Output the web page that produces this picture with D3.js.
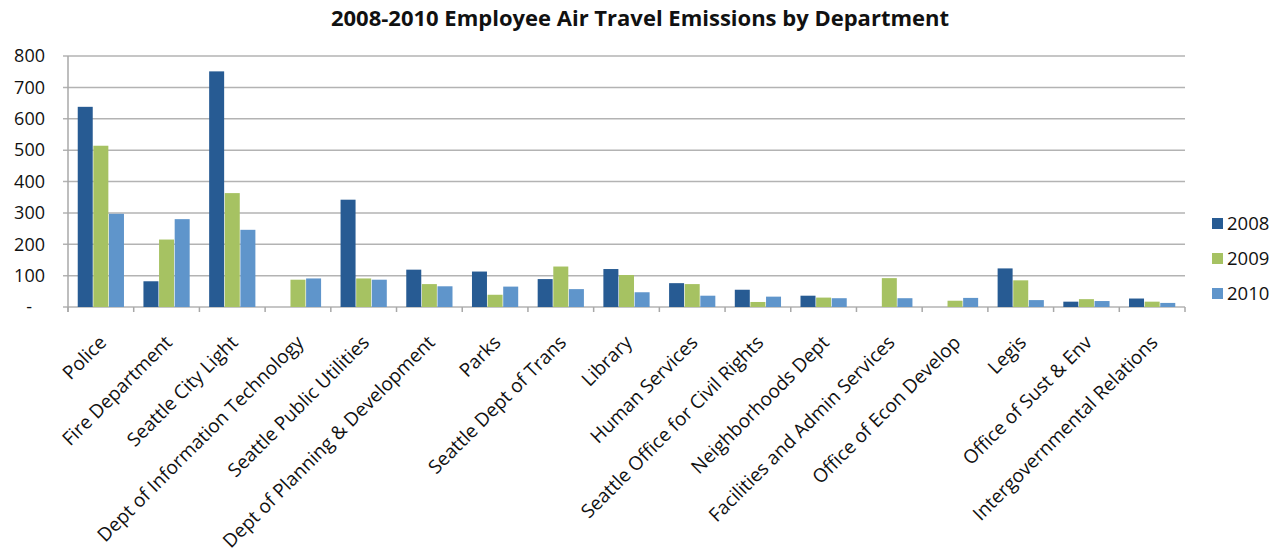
<!DOCTYPE html>
<html>
<head>
<meta charset="utf-8">
<script src="https://cdn.jsdelivr.net/npm/d3@7"></script>
<style>
	body { margin: 0; background: #fff; }
	text { font-family: "Open Sans", sans-serif; fill: #111; }
</style>
</head>
<body>
<script>
'use strict';

{
	let departments = ["Police", "Fire Department", "Seattle City Light", "Dept of Information Technology",
		"Seattle Public Utilities", "Dept of Planning & Development", "Parks", "Seattle Dept of Trans",
		"Library", "Human Services", "Seattle Office for Civil Rights", "Neighborhoods Dept",
		"Facilities and Admin Services", "Office of Econ Develop", "Legis", "Office of Sust & Env",
		"Intergovernmental Relations"];

	let years = ["2008", "2009", "2010"];

	let values2008 = [638, 82, 751, 0, 342, 119, 113, 89, 121, 76, 55, 36, 0, 0, 123, 17, 27];
	let values2009 = [514, 215, 363, 87, 91, 73, 39, 129, 102, 73, 16, 30, 92, 20, 85, 25, 17];
	let values2010 = [297, 280, 246, 91, 87, 66, 65, 57, 47, 36, 33, 28, 28, 29, 22, 19, 13];

	let yTicks = [0, 100, 200, 300, 400, 500, 600, 700, 800];
	let colors = ["#275b93", "#a6c262", "#5f95cb"];

	let width = 1285, height = 552;
	let margin = {top: 56, right: 100, bottom: 245, left: 68};

	let series = [values2008, values2009, values2010];
	let myData = departments.map((d, i) => ({
		dept: d,
		vals: years.map((y, j) => ({year: y, value: series[j][i]}))
	}));

	let svg = d3.select("body").append("svg")
		.attr("width", width)
		.attr("height", height);

	// title
	svg.append("text")
		.attr("x", 640)
		.attr("y", 26)
		.attr("text-anchor", "middle")
		.style("font-size", "22px")
		.style("font-weight", "bold")
		.text("2008-2010 Employee Air Travel Emissions by Department");

	let x = d3.scaleBand()
		.domain(departments)
		.range([margin.left, 1185]);

	let xInner = d3.scaleBand()
		.domain(years)
		.range([0, x.bandwidth()])
		.paddingInner(0.04)
		.paddingOuter(2.2 / 3 * 0.85);

	let y = d3.scaleLinear()
		.domain([0, 800])
		.range([307, 56]);

	// gridlines
	svg.append("g")
		.selectAll("line")
		.data(yTicks)
		.enter()
		.append("line")
		.attr("x1", margin.left - 5)
		.attr("x2", 1185)
		.attr("y1", d => y(d))
		.attr("y2", d => y(d))
		.attr("stroke", "#b3b3b3")
		.attr("stroke-width", 1.5);

	// y axis labels
	svg.append("g")
		.selectAll("text")
		.data(yTicks)
		.enter()
		.append("text")
		.attr("x", d => d === 0 ? 32 : 45)
		.attr("y", d => y(d))
		.attr("dy", "0.35em")
		.attr("text-anchor", "end")
		.style("font-size", "18px")
		.text(d => d === 0 ? "-" : d);

	// y axis line
	svg.append("line")
		.attr("x1", margin.left).attr("x2", margin.left)
		.attr("y1", y(800)).attr("y2", y(0) + 5)
		.attr("stroke", "#a8a8a8")
		.attr("stroke-width", 1.5);

	// x category ticks
	svg.append("g")
		.selectAll("line")
		.data(departments.concat(["end"]))
		.enter()
		.append("line")
		.attr("x1", (d, i) => margin.left + i * x.step())
		.attr("x2", (d, i) => margin.left + i * x.step())
		.attr("y1", y(0))
		.attr("y2", y(0) + 5)
		.attr("stroke", "#a8a8a8")
		.attr("stroke-width", 1.5);

	// bars
	let groups = svg.append("g")
		.selectAll("g")
		.data(myData)
		.enter()
		.append("g")
		.attr("transform", d => `translate(${x(d.dept)},0)`);

	groups.selectAll("rect")
		.data(d => d.vals)
		.enter()
		.append("rect")
		.attr("x", d => xInner(d.year))
		.attr("width", xInner.bandwidth())
		.attr("y", d => y(d.value))
		.attr("height", d => y(0) - y(d.value))
		.attr("fill", (d, i) => colors[i]);

	// x labels
	svg.append("g")
		.selectAll("text")
		.data(departments)
		.enter()
		.append("text")
		.attr("transform", d => `translate(${x(d) + x.bandwidth() / 2 + 2},${y(0) + 32}) rotate(-45)`)
		.attr("text-anchor", "end")
		.attr("dy", "0.35em")
		.style("font-size", "19px")
		.text(d => d);

	// legend
	let legend = svg.append("g")
		.selectAll("g")
		.data(years)
		.enter()
		.append("g")
		.attr("transform", (d, i) => `translate(1212,${224 + i * 35})`);

	legend.append("rect")
		.attr("x", 0)
		.attr("y", -6)
		.attr("width", 11)
		.attr("height", 11)
		.attr("fill", (d, i) => colors[i]);

	legend.append("text")
		.attr("x", 15)
		.attr("dy", "0.35em")
		.style("font-size", "18.5px")
		.text(d => d);
}
</script>
</body>
</html>
